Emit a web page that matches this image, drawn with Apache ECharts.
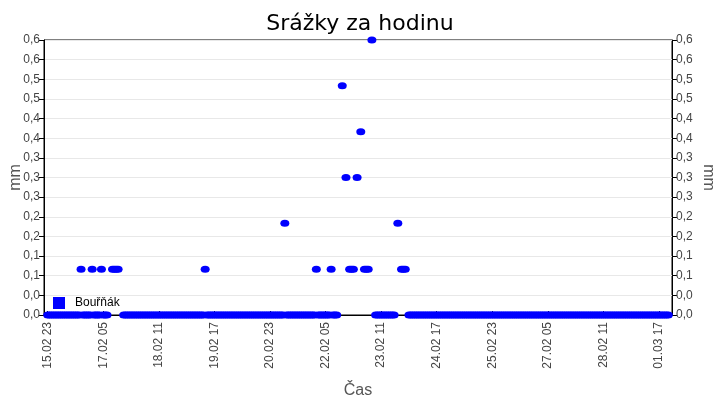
<!DOCTYPE html>
<html>
<head>
<meta charset="utf-8">
<title>Srážky za hodinu</title>
<script src="https://cdn.jsdelivr.net/npm/echarts@6/dist/echarts.min.js"></script>
<style>
  html, body { margin: 0; padding: 0; background: #ffffff; }
  #chart { width: 720px; height: 400px; }
</style>
</head>
<body>
<div id="chart"></div>
<script>
// hodinové srážky [mm], jeden řádek = 24 hodin od 15.02 23:00, null = bez dat
let rainValues = [
  0, 0, 0, 0, 0, 0, 0, 0, 0, 0, 0, 0, 0, 0, 0, 0, 0, 0, 0.1, 0, 0, 0, 0, 0,
  0.1, 0, 0, 0, 0, 0.1, 0, 0, 0, null, null, 0.1, 0.1, 0.1, 0.1, null, null, 0, 0, 0, 0, 0, 0, 0,
  0, 0, 0, 0, 0, 0, 0, 0, 0, 0, 0, 0, 0, 0, 0, 0, 0, 0, 0, 0, 0, 0, 0, 0,
  0, 0, 0, 0, 0, 0, 0, 0, 0, 0, 0, 0, 0, 0.1, 0, 0, 0, 0, 0, 0, 0, 0, 0, 0,
  0, 0, 0, 0, 0, 0, 0, 0, 0, 0, 0, 0, 0, 0, 0, 0, 0, 0, 0, 0, 0, 0, 0, 0,
  0, 0, 0, 0, 0, 0, 0, 0, 0.2, 0, 0, 0, 0, 0, 0, 0, 0, 0, 0, 0, 0, 0, 0, 0,
  0, 0.1, 0, 0, 0, 0, 0, 0, 0, 0.1, 0, 0, 0, null, null, 0.5, null, 0.3, null, 0.1, 0.1, 0.1, null, 0.3,
  null, 0.4, null, 0.1, 0.1, 0.1, null, 0.6, null, 0, 0, 0, 0, 0, 0, 0, 0, 0, 0, 0, null, 0.2, null, 0.1,
  0.1, 0.1, null, 0, 0, 0, 0, 0, 0, 0, 0, 0, 0, 0, 0, 0, 0, 0, 0, 0, 0, 0, 0, 0,
  0, 0, 0, 0, 0, 0, 0, 0, 0, 0, 0, 0, 0, 0, 0, 0, 0, 0, 0, 0, 0, 0, 0, 0,
  0, 0, 0, 0, 0, 0, 0, 0, 0, 0, 0, 0, 0, 0, 0, 0, 0, 0, 0, 0, 0, 0, 0, 0,
  0, 0, 0, 0, 0, 0, 0, 0, 0, 0, 0, 0, 0, 0, 0, 0, 0, 0, 0, 0, 0, 0, 0, 0,
  0, 0, 0, 0, 0, 0, 0, 0, 0, 0, 0, 0, 0, 0, 0, 0, 0, 0, 0, 0, 0, 0, 0, 0,
  0, 0, 0, 0, 0, 0, 0, 0, 0, 0, 0, 0, 0, 0, 0, 0, 0, 0, 0, 0, 0, 0, 0, 0
];

// první měření a krok popisků osy X
let startTime = new Date(2023, 1, 15, 23, 0, 0);
let labelStep = 30;   // hodin
let pad = 2;          // prázdné hodiny na okrajích osy

// popisky osy X (den.měsíc hodina)
let hourLabels = [];
for (let i = -pad; i < rainValues.length + pad; i++) {
  let d = new Date(startTime.getTime() + i * 3600 * 1000);
  let dd = String(d.getDate()).padStart(2, '0');
  let mm = String(d.getMonth() + 1).padStart(2, '0');
  let hh = String(d.getHours()).padStart(2, '0');
  hourLabels.push(dd + '.' + mm + ' ' + hh);
}

let yMax = 0.6;
let yStep = yMax / 14;

let points = [];
rainValues.forEach(function (v, i) {
  if (v !== null) points.push([i + pad, v]);
});

let myChart = echarts.init(document.getElementById('chart'));

function isLabelIndex (index) {
  let k = index - pad;
  return k >= 0 && k < rainValues.length && k % labelStep === 0;
}

let yAxisBase = {
  type: 'value',
  min: 0,
  max: yMax,
  interval: yStep,
  name: 'mm',
  nameLocation: 'middle',
  nameMoveOverlap: false,
  nameTextStyle: { color: '#555', fontSize: 16, fontFamily: 'Liberation Sans' },
  axisLine: { show: true, lineStyle: { color: '#000' } },
  axisTick: { show: true, length: 5, lineStyle: { color: '#000' } },
  axisLabel: {
    color: '#444',
    fontSize: 12,
    fontFamily: 'Liberation Sans',
    margin: 4,
    formatter: function (value) {
      return value.toFixed(1).replace('.', ',');
    }
  },
  splitLine: { show: true, lineStyle: { color: '#e8e8e8' } }
};

myChart.setOption({
  backgroundColor: '#ffffff',
  animation: false,
  title: {
    text: 'Srážky za hodinu',
    left: 'center',
    top: 8,
    textStyle: { color: '#000', fontSize: 22, fontWeight: 'normal', fontFamily: 'DejaVu Sans' }
  },
  legend: {
    left: 53,
    top: 297,
    padding: 0,
    icon: 'rect',
    itemWidth: 12,
    itemHeight: 12,
    formatter: '{a|{name}}',
    textStyle: {
      color: '#000',
      fontSize: 12,
      fontFamily: 'Liberation Sans',
      rich: { a: { color: '#000', fontSize: 12, fontFamily: 'Liberation Sans', padding: [0, 0, 0, 5] } }
    },
    data: ['Bouřňák']
  },
  grid: {
    left: 44,
    right: 48,
    top: 40,
    bottom: 85,
    outerBoundsMode: 'none',
    containLabel: false,
    show: true,
    borderColor: '#000',
    borderWidth: 1
  },
  xAxis: {
    type: 'category',
    boundaryGap: false,
    data: hourLabels,
    name: 'Čas',
    nameLocation: 'middle',
    nameGap: 68,
    nameMoveOverlap: false,
    nameTextStyle: { color: '#555', fontSize: 16, fontFamily: 'Liberation Sans' },
    axisLine: { show: true, lineStyle: { color: '#000' } },
    axisTick: { show: true, inside: true, length: 4, interval: isLabelIndex, lineStyle: { color: '#000' } },
    axisLabel: {
      rotate: 90,
      color: '#444',
      fontSize: 12,
      fontFamily: 'Liberation Sans',
      margin: 7,
      interval: isLabelIndex
    },
    splitLine: { show: false }
  },
  yAxis: [
    Object.assign({}, yAxisBase, { position: 'left', nameGap: 20 }),
    Object.assign({}, yAxisBase, { position: 'right', nameGap: 28, nameRotate: -90, splitLine: { show: false } })
  ],
  series: [
    {
      name: 'Bouřňák',
      type: 'scatter',
      clip: false,
      symbol: 'circle',
      symbolSize: [9, 7],
      itemStyle: { color: '#0000ff', opacity: 1 },
      data: points
    }
  ]
});
</script>
</body>
</html>
